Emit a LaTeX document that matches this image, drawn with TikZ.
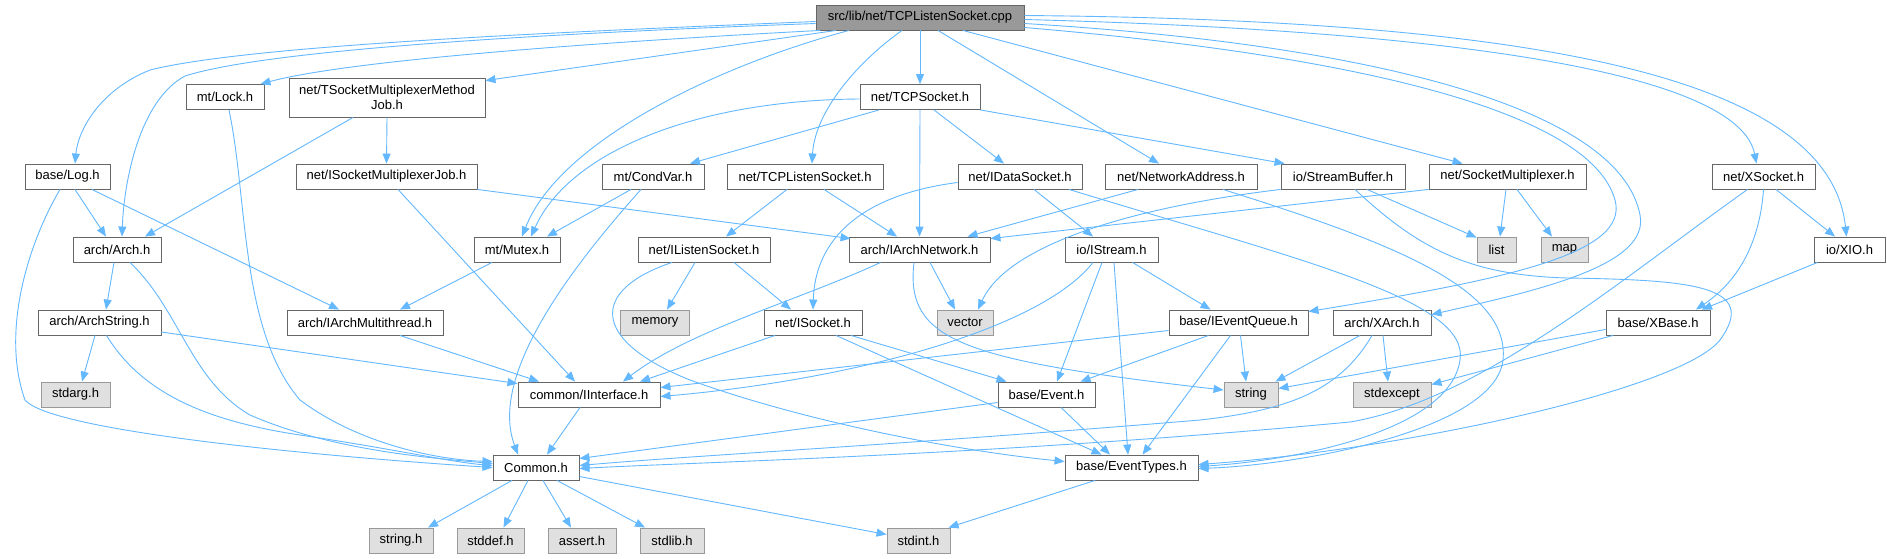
\documentclass[tikz,border=0pt]{standalone}
\usepackage{fontspec}
\setmainfont{Liberation Sans}
\usepackage{tikz}
\usetikzlibrary{arrows.meta}
\definecolor{depblue}{HTML}{63B8FF}
\definecolor{boxgray}{HTML}{666666}
\definecolor{sysgray}{HTML}{999999}
\definecolor{sysfill}{HTML}{E0E0E0}
\definecolor{topfill}{HTML}{999999}
\begin{document}
\begin{tikzpicture}[x=1pt,y=-1pt,
  hdr/.style={draw=boxgray, fill=white, line width=0.9pt, minimum height=25pt, inner sep=0pt,
    font=\fontsize{13}{15}\selectfont},
  sys/.style={hdr, draw=sysgray, fill=sysfill},
  dep/.style={draw=depblue, line width=0.9pt, -{Triangle[length=10pt,width=8pt]}}]
  \path[use as bounding box, fill=white] (0,0) rectangle (1887,558);

  \node[hdr, fill=topfill, minimum width=208pt] (cpp) at (920,17.5) {src/lib/net/TCPListenSocket.cpp};
  \node[hdr, minimum width=78pt] (lock) at (225,97) {mt/Lock.h};
  \node[hdr, minimum width=196pt, minimum height=39pt, align=center] (tsmmj) at (387,97.5) {net/TSocketMultiplexerMethod\\Job.h};
  \node[hdr, minimum width=120pt] (tcpsock) at (920,97) {net/TCPSocket.h};
  \node[hdr, minimum width=85pt] (log) at (67.5,176.5) {base/Log.h};
  \node[hdr, minimum width=181pt] (ismj) at (386.5,176.5) {net/ISocketMultiplexerJob.h};
  \node[hdr, minimum width=102pt] (condvar) at (653,176.5) {mt/CondVar.h};
  \node[hdr, minimum width=156pt] (tcplisten) at (805,176.5) {net/TCPListenSocket.h};
  \node[hdr, minimum width=124pt] (idatasock) at (1020,176.5) {net/IDataSocket.h};
  \node[hdr, minimum width=152pt] (netaddr) at (1181,176.5) {net/NetworkAddress.h};
  \node[hdr, minimum width=124pt] (strbuf) at (1343,176.5) {io/StreamBuffer.h};
  \node[hdr, minimum width=157pt] (sockmux) at (1507.5,176.5) {net/SocketMultiplexer.h};
  \node[hdr, minimum width=103pt] (xsock) at (1763.5,176.5) {net/XSocket.h};
  \node[hdr, minimum width=88pt] (arch) at (117,249.5) {arch/Arch.h};
  \node[hdr, minimum width=86pt] (mutex) at (517,249.5) {mt/Mutex.h};
  \node[hdr, minimum width=132pt] (ilisten) at (704,249.5) {net/IListenSocket.h};
  \node[hdr, minimum width=141pt] (iarchnet) at (919.5,249.5) {arch/IArchNetwork.h};
  \node[hdr, minimum width=93pt] (istream) at (1111.5,249.5) {io/IStream.h};
  \node[sys, minimum width=39pt] (list) at (1496.5,249.5) {list};
  \node[sys, minimum width=47pt] (map) at (1564.5,249.5) {map};
  \node[hdr, minimum width=71pt] (xio) at (1849.5,249.5) {io/XIO.h};
  \node[hdr, minimum width=123pt] (archstr) at (99.5,322.5) {arch/ArchString.h};
  \node[hdr, minimum width=156pt] (iarchmt) at (365,322.5) {arch/IArchMultithread.h};
  \node[sys, minimum width=69pt] (memory) at (655,322.5) {memory};
  \node[hdr, minimum width=98pt] (isock) at (813,322.5) {net/ISocket.h};
  \node[sys, minimum width=56pt] (vector) at (965,322.5) {vector};
  \node[hdr, minimum width=139pt] (ieventq) at (1238.5,322.5) {base/IEventQueue.h};
  \node[hdr, minimum width=98pt] (xarch) at (1382,322.5) {arch/XArch.h};
  \node[hdr, minimum width=104pt] (xbase) at (1658,322.5) {base/XBase.h};
  \node[sys, minimum width=69pt] (stdarg) at (75.5,394.5) {stdarg.h};
  \node[hdr, minimum width=142pt] (iiface) at (589,394.5) {common/IInterface.h};
  \node[hdr, minimum width=97pt] (event) at (1046.5,394.5) {base/Event.h};
  \node[sys, minimum width=54pt] (string) at (1251,394.5) {string};
  \node[sys, minimum width=78pt] (stdexcept) at (1392,394.5) {stdexcept};
  \node[hdr, minimum width=86pt] (common) at (536,467.5) {Common.h};
  \node[hdr, minimum width=133pt] (evtypes) at (1131.5,467.5) {base/EventTypes.h};
  \node[sys, minimum width=64pt] (stringh) at (401,540.5) {string.h};
  \node[sys, minimum width=67pt] (stddef) at (490.5,540.5) {stddef.h};
  \node[sys, minimum width=68pt] (assert) at (582,540.5) {assert.h};
  \node[sys, minimum width=64pt] (stdlib) at (672,540.5) {stdlib.h};
  \node[sys, minimum width=63pt] (stdint) at (918.5,540.5) {stdint.h};

  \draw[dep] ([yshift=-4pt]cpp.west) .. controls (560,32) and (250,45) .. (150,70) .. controls (100,90) and (78,130) .. ([xshift=7.5pt]log.north);
  \draw[dep] ([yshift=-6pt]cpp.west) .. controls (500,35) and (260,52) .. (185,76) .. controls (140,100) and (124,180) .. ([xshift=5pt]arch.north);
  \draw[dep] ([xshift=-100pt]cpp.south) .. controls (600,42) and (350,60) .. ([xshift=-4pt]lock.north east);
  \draw[dep] ([xshift=-84pt]cpp.south) -- ([yshift=-3pt]tsmmj.north east);
  \draw[dep] ([xshift=-71pt]cpp.south) .. controls (720,65) and (560,140) .. ([xshift=5pt]mutex.north);
  \draw[dep] (cpp.south) -- (tcpsock.north);
  \draw[dep] ([xshift=-18pt]cpp.south) .. controls (860,60) and (815,110) .. ([xshift=7pt]tcplisten.north);
  \draw[dep] ([xshift=18pt]cpp.south) -- ([xshift=-22pt]netaddr.north);
  \draw[dep] ([xshift=43pt]cpp.south) -- ([xshift=-45pt]sockmux.north);
  \draw[dep] ([yshift=-10pt]cpp.east) .. controls (1350,55) and (1590,110) .. (1615,200) .. controls (1630,255) and (1500,280) .. ([yshift=-2pt]ieventq.north east);
  \draw[dep] ([yshift=-6pt]cpp.east) .. controls (1380,45) and (1620,110) .. (1640,215) .. controls (1650,265) and (1540,290) .. ([yshift=-5pt]xarch.north east);
  \draw[dep] ([yshift=-2pt]cpp.east) .. controls (1500,32) and (1740,80) .. ([xshift=-7pt]xsock.north);
  \draw[dep] ([yshift=2pt]cpp.east) .. controls (1550,20) and (1830,80) .. ([xshift=-3pt]xio.north);

  \draw[dep] ([yshift=-2pt]tcpsock.west) .. controls (700,100) and (570,150) .. ([xshift=14pt]mutex.north);
  \draw[dep] ([xshift=-41pt]tcpsock.south) -- ([xshift=37pt]condvar.north);
  \draw[dep] (tcpsock.south) -- (iarchnet.north);
  \draw[dep] ([xshift=14pt]tcpsock.south) -- ([xshift=-16pt]idatasock.north);
  \draw[dep] (tcpsock.south east) -- ([xshift=4pt]strbuf.north west);

  \draw[dep] (tsmmj.south) -- (ismj.north);
  \draw[dep] ([xshift=-34pt]tsmmj.south) -- ([xshift=28pt]arch.north);

  \draw[dep] ([xshift=4pt]lock.south) .. controls (248,200) and (240,330) .. (300,400) .. controls (360,445) and (440,460) .. ([yshift=6pt]common.west);

  \draw[dep] ([xshift=7.5pt]log.south) -- ([xshift=-11pt]arch.north);
  \draw[dep] ([xshift=24.5pt]log.south) -- ([xshift=-26pt]iarchmt.north);
  \draw[dep] ([xshift=-7.5pt]log.south) .. controls (30,240) and (0,330) .. (25,400) .. controls (50,430) and (300,455) .. (common.west);

  \draw[dep] (ismj.south east) -- ([xshift=2pt,yshift=-2pt]iarchnet.north west);
  \draw[dep] ([xshift=11.5pt]ismj.south) -- ([xshift=-14pt]iiface.north);

  \draw[dep] ([xshift=-22pt]condvar.south) -- ([xshift=30pt]mutex.north);
  \draw[dep] ([xshift=-12pt]condvar.south) .. controls (560,280) and (490,380) .. ([xshift=-18pt]common.north);

  \draw[dep] ([xshift=-18pt]tcplisten.south) -- ([xshift=22pt]ilisten.north);
  \draw[dep] ([xshift=19pt]tcplisten.south) -- ([xshift=-22.5pt]iarchnet.north);

  \draw[dep] ([yshift=-6pt]idatasock.west) .. controls (860,195) and (815,240) .. (isock.north);
  \draw[dep] ([xshift=14pt]idatasock.south) -- ([xshift=-18.5pt]istream.north);
  \draw[dep] ([xshift=49pt]idatasock.south) .. controls (1300,260) and (1470,300) .. (1460,360) .. controls (1450,430) and (1300,460) .. ([yshift=1pt]evtypes.east);

  \draw[dep] ([xshift=-43pt]netaddr.south) -- ([xshift=48pt]iarchnet.north);
  \draw[dep] ([xshift=42pt]netaddr.south) .. controls (1400,245) and (1510,290) .. (1503,360) .. controls (1495,430) and (1300,465) .. ([yshift=-1pt]evtypes.east);

  \draw[dep] ([xshift=24pt]strbuf.south) -- ([yshift=-1pt]list.north west);
  \draw[dep] (strbuf.south west) .. controls (1150,205) and (1010,240) .. ([xshift=13pt]vector.north);
  \draw[dep] ([xshift=12pt]strbuf.south) .. controls (1420,250) and (1470,275) .. (1567,278) .. controls (1690,280) and (1760,285) .. (1720,340) .. controls (1680,390) and (1400,450) .. ([yshift=3pt]evtypes.east);

  \draw[dep] (sockmux.south west) -- ([yshift=-2pt]iarchnet.north east);
  \draw[dep] ([xshift=-1.5pt]sockmux.south) -- ([xshift=3.5pt]list.north);
  \draw[dep] ([xshift=9.5pt]sockmux.south) -- ([xshift=-12.5pt]map.north);

  \draw[dep] ([xshift=12.5pt]xsock.south) -- ([xshift=-14.5pt]xio.north);
  \draw[dep] (xsock.south) .. controls (1760,240) and (1740,280) .. ([xshift=38pt]xbase.north);
  \draw[dep] ([xshift=-16pt]xsock.south) .. controls (1620,280) and (1480,400) .. (1350,422) .. controls (1000,455) and (700,462) .. ([yshift=-1pt]common.east);
  \draw[dep] ([xshift=-32pt]xio.south) -- ([xshift=44pt]xbase.north);

  \draw[dep] ([xshift=-3pt]arch.south) -- ([xshift=6.5pt]archstr.north);
  \draw[dep] ([xshift=13pt]arch.south) .. controls (180,310) and (190,380) .. (250,415) .. controls (330,450) and (430,458) .. ([yshift=4pt]common.west);

  \draw[dep] ([xshift=-25pt]mutex.south) -- ([xshift=35pt]iarchmt.north);

  \draw[dep] ([xshift=-9pt]ilisten.south) -- ([xshift=12pt]memory.north);
  \draw[dep] ([xshift=30pt]ilisten.south) -- ([xshift=-22pt]isock.north);
  \draw[dep] ([xshift=-32pt]ilisten.south) .. controls (590,290) and (590,340) .. (690,380) .. controls (800,420) and (950,450) .. ([yshift=6pt]evtypes.west);

  \draw[dep] ([xshift=10.5pt]iarchnet.south) -- ([xshift=-10pt]vector.north);
  \draw[dep] ([xshift=-5.5pt]iarchnet.south) .. controls (905,340) and (960,360) .. ([yshift=4.5pt]string.west);
  \draw[dep] ([xshift=-39pt]iarchnet.south) .. controls (800,300) and (690,330) .. ([xshift=34pt]iiface.north);

  \draw[dep] ([xshift=-18.5pt]istream.south) .. controls (1040,330) and (850,380) .. ([yshift=-2pt]iiface.east);
  \draw[dep] ([xshift=-9.5pt]istream.south) -- ([xshift=10.5pt]event.north);
  \draw[dep] ([xshift=2.5pt]istream.south) -- ([xshift=-3.5pt]evtypes.north);
  \draw[dep] ([xshift=21pt]istream.south) -- ([xshift=-28pt]ieventq.north);

  \draw[dep] ([xshift=-4.5pt]archstr.south) -- ([xshift=6.5pt]stdarg.north);
  \draw[dep] ([xshift=7pt]archstr.south) .. controls (140,390) and (200,420) .. (300,435) .. controls (400,450) and (450,462) .. ([yshift=2pt]common.west);
  \draw[dep] ([yshift=-9.5pt]archstr.east) -- ([yshift=-2pt]iiface.north west);

  \draw[dep] ([xshift=35pt]iarchmt.south) -- ([xshift=-50pt]iiface.north);

  \draw[dep] ([xshift=-38pt]isock.south) -- ([xshift=51pt]iiface.north);
  \draw[dep] ([xshift=38pt]isock.south) -- ([xshift=-40pt]event.north);
  \draw[dep] ([xshift=23pt]isock.south) -- ([xshift=-30pt]evtypes.north);

  \draw[dep] ([yshift=-8pt]ieventq.west) -- ([yshift=7pt]iiface.east);
  \draw[dep] ([xshift=-30pt]ieventq.south) -- ([xshift=34pt]event.north);
  \draw[dep] ([xshift=2pt]ieventq.south) -- ([xshift=-5pt]string.north);
  \draw[dep] ([xshift=-8pt]ieventq.south) -- ([xshift=11pt]evtypes.north);

  \draw[dep] ([xshift=-22pt]xarch.south) -- ([xshift=-3pt]string.north east);
  \draw[dep] ([xshift=1pt]xarch.south) -- ([xshift=-4pt]stdexcept.north);
  \draw[dep] ([xshift=-10pt]xarch.south) .. controls (1340,390) and (1290,410) .. (1200,420) .. controls (900,445) and (700,455) .. ([yshift=2pt]common.east);

  \draw[dep] ([yshift=-7pt]xbase.west) -- ([yshift=6pt]string.east);
  \draw[dep] ([xshift=-45pt]xbase.south) -- ([yshift=10pt]stdexcept.east);

  \draw[dep] ([xshift=-9pt]iiface.south) -- ([xshift=11pt]common.north);

  \draw[dep] ([yshift=-8pt]event.west) -- ([yshift=9pt]common.east);
  \draw[dep] ([xshift=14.5pt]event.south) -- ([xshift=-21.5pt]evtypes.north);

  \draw[dep] ([xshift=-36.5pt]evtypes.south) -- ([xshift=30pt]stdint.north);

  \draw[dep] ([xshift=-24pt]common.south) -- ([xshift=27pt]stringh.north);
  \draw[dep] ([xshift=-8pt]common.south) -- ([xshift=13pt]stddef.north);
  \draw[dep] ([xshift=7pt]common.south) -- ([xshift=-11pt]assert.north);
  \draw[dep] ([xshift=21pt]common.south) -- ([xshift=-27pt]stdlib.north);
  \draw[dep] ([yshift=-9pt]common.east) -- ([yshift=6pt]stdint.west);
\end{tikzpicture}
\end{document}
